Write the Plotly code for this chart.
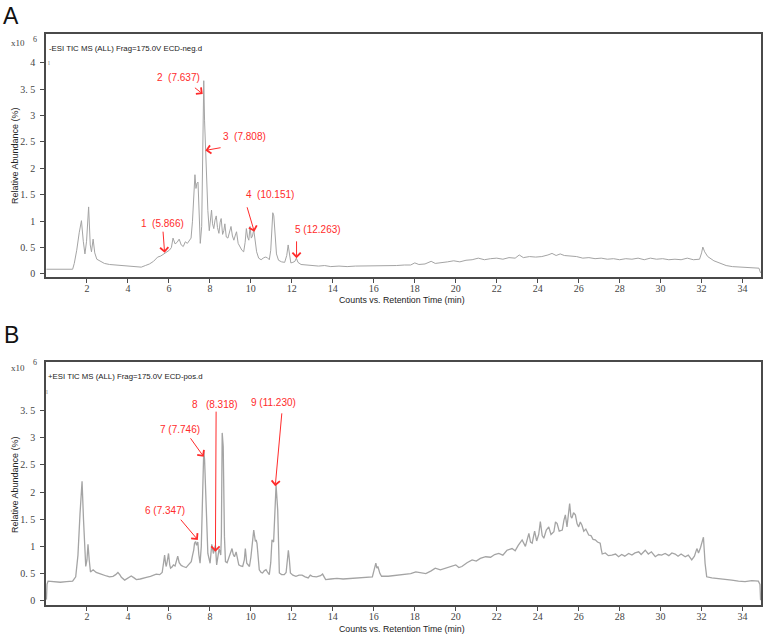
import plotly.graph_objects as go

# ---------------- data ----------------
t_neg = [0.02, 1.30, 1.38, 1.50, 1.62, 1.73, 1.82, 1.90, 1.98, 2.08, 2.16, 2.22, 2.30, 2.38, 2.48,
         2.65, 2.85, 3.1, 3.4, 3.7, 3.95, 4.2, 4.45, 4.65, 4.85, 5.05, 5.25, 5.45, 5.6, 5.75, 5.9,
         6.02, 6.12, 6.2, 6.3, 6.4, 6.5, 6.6, 6.7, 6.8, 6.9, 7.0, 7.08, 7.15, 7.22, 7.27, 7.32,
         7.37, 7.42, 7.47, 7.53, 7.6, 7.66, 7.70, 7.74, 7.78, 7.83, 7.90, 7.97, 8.03, 8.08, 8.13,
         8.19, 8.25, 8.31, 8.37, 8.44, 8.50, 8.55, 8.62, 8.68, 8.73, 8.80, 8.88, 8.96, 9.03, 9.10,
         9.17, 9.23, 9.30, 9.38, 9.47, 9.56, 9.65, 9.72, 9.78, 9.84, 9.90, 9.96, 10.02, 10.08,
         10.14, 10.20, 10.28, 10.38, 10.5, 10.6, 10.7, 10.8, 10.9, 10.97, 11.03, 11.07, 11.12,
         11.17, 11.25, 11.35, 11.5, 11.65, 11.75, 11.82, 11.88, 11.95, 12.05, 12.15, 12.22, 12.3,
         12.45, 12.7, 13.0, 13.3, 13.6, 13.9, 14.3, 14.7, 15.1, 15.5, 15.9, 16.3, 16.7, 17.1,
         17.5, 17.8, 18.0, 18.2, 18.5, 18.8, 19.0, 19.3, 19.6, 19.9, 20.2, 20.5, 20.8, 21.1,
         21.4, 21.7, 22.0, 22.3, 22.6, 22.9, 23.1, 23.3, 23.6, 23.9, 24.2, 24.5, 24.7, 24.9,
         25.1, 25.3, 25.6, 25.9, 26.2, 26.5, 26.8, 27.1, 27.4, 27.7, 28.0, 28.3, 28.6, 28.9,
         29.2, 29.5, 29.8, 30.1, 30.4, 30.7, 31.0, 31.3, 31.6, 31.9, 32.0, 32.06, 32.15, 32.3,
         32.6, 32.9, 33.2, 33.5, 33.9, 34.3, 34.8, 34.88]
v_neg = [0.09, 0.09, 0.20, 0.45, 0.78, 1.01, 0.62, 0.38, 0.62, 1.27, 0.55, 0.42, 0.66, 0.40, 0.28,
         0.24, 0.20, 0.18, 0.17, 0.16, 0.15, 0.15, 0.14, 0.13, 0.16, 0.19, 0.24, 0.32, 0.34, 0.38, 0.42,
         0.45, 0.50, 0.68, 0.57, 0.60, 0.66, 0.55, 0.52, 0.61, 0.58, 0.64, 0.68, 1.00, 1.60, 1.88, 1.62,
         1.72, 1.74, 1.30, 0.58, 0.90, 2.60, 3.66, 2.90, 2.35, 1.90, 1.20, 0.82, 1.05, 1.21, 0.95,
         0.86, 1.02, 1.10, 0.88, 0.77, 0.98, 1.05, 0.75, 0.82, 0.95, 0.70, 0.68, 0.78, 0.90, 0.72,
         0.64, 0.72, 0.80, 0.58, 0.52, 0.45, 0.42, 0.60, 0.86, 0.70, 0.64, 0.90, 0.68, 0.72,
         0.84, 0.60, 0.42, 0.30, 0.27, 0.30, 0.32, 0.31, 0.27, 0.45, 0.95, 1.16, 1.10,
         0.85, 0.38, 0.26, 0.23, 0.22, 0.35, 0.55, 0.35, 0.21, 0.22, 0.24, 0.30, 0.22,
         0.18, 0.17, 0.16, 0.15, 0.16, 0.14, 0.15, 0.14, 0.15, 0.15, 0.16, 0.15, 0.16, 0.16,
         0.17, 0.17, 0.21, 0.18, 0.19, 0.24, 0.20, 0.21, 0.23, 0.25, 0.23, 0.26, 0.27, 0.30,
         0.27, 0.29, 0.30, 0.28, 0.31, 0.30, 0.36, 0.31, 0.33, 0.32, 0.33, 0.36, 0.39, 0.35,
         0.38, 0.35, 0.34, 0.33, 0.30, 0.31, 0.29, 0.30, 0.28, 0.29, 0.27, 0.29, 0.28, 0.30,
         0.27, 0.30, 0.28, 0.29, 0.27, 0.28, 0.27, 0.30, 0.27, 0.28, 0.40, 0.51, 0.42, 0.33,
         0.25, 0.20, 0.16, 0.14, 0.13, 0.12, 0.11, 0.02]

t_pos = [0.02, 0.05, 0.10, 0.4, 0.7, 1.0, 1.3, 1.45, 1.56, 1.66, 1.76, 1.83, 1.89, 1.94, 2.0, 2.05,
         2.11, 2.17, 2.3, 2.45, 2.62, 2.8, 2.95, 3.1, 3.27, 3.4, 3.51, 3.6, 3.68, 3.84, 4.0, 4.16,
         4.3, 4.41, 4.6, 4.75, 4.9, 5.1, 5.25, 5.38, 5.55, 5.67, 5.74, 5.79, 5.84, 5.87, 5.93, 5.98,
         6.04, 6.08, 6.15, 6.22, 6.3, 6.37, 6.43, 6.5, 6.6, 6.7, 6.84, 6.95, 7.09, 7.16, 7.21, 7.25,
         7.30, 7.35, 7.41, 7.46, 7.52, 7.58, 7.63, 7.70, 7.74, 7.82, 7.90, 8.01, 8.05, 8.09, 8.17,
         8.22, 8.27, 8.33, 8.39, 8.45, 8.53, 8.56, 8.60, 8.63, 8.65, 8.71, 8.76, 8.84, 8.92, 9.0,
         9.08, 9.14, 9.2, 9.28, 9.35, 9.41, 9.5, 9.6, 9.68, 9.73, 9.80, 9.86, 9.93, 10.0, 10.08,
         10.14, 10.22, 10.26, 10.30, 10.35, 10.41, 10.5, 10.57, 10.65, 10.74, 10.82, 10.9, 10.97,
         11.03, 11.11, 11.17, 11.23, 11.31, 11.36, 11.39, 11.5, 11.63, 11.72, 11.78, 11.83, 11.88,
         11.93, 12.05, 12.2, 12.35, 12.5, 12.65, 12.8, 12.9, 13.0, 13.2, 13.4, 13.5, 13.6, 13.65,
         13.9, 14.2, 14.5, 14.8, 15.1, 15.4, 15.7, 15.93, 16.05, 16.1, 16.15, 16.2, 16.3, 16.38,
         16.7, 17.0, 17.23, 17.5, 17.8, 18.05, 18.3, 18.54, 18.8, 19.0, 19.25, 19.5, 19.75, 20.0,
         20.15, 20.3, 20.55, 20.8, 21.0, 21.2, 21.46, 21.7, 21.9, 22.1, 22.3, 22.5, 22.75, 22.9,
         23.05, 23.24, 23.4, 23.57, 23.65, 23.73, 23.85, 23.95, 24.05, 24.13, 24.22, 24.3, 24.42,
         24.54, 24.65, 24.79, 24.87, 24.95, 25.05, 25.2, 25.28, 25.35, 25.43, 25.5, 25.56, 25.62,
         25.67, 25.75, 25.84, 25.92, 26.0, 26.08, 26.16, 26.25, 26.35, 26.49, 26.6, 26.7, 26.81,
         26.92, 27.05, 27.1, 27.15, 27.3, 27.45, 27.62, 27.8, 27.95, 28.1, 28.25, 28.44, 28.6,
         28.75, 28.93, 29.05, 29.25, 29.4, 29.55, 29.74, 29.9, 30.05, 30.22, 30.4, 30.55, 30.71,
         30.85, 31.0, 31.2, 31.35, 31.52, 31.65, 31.77, 31.85, 31.95, 32.09, 32.17, 32.25, 32.5,
         32.82, 33.1, 33.47, 33.8, 34.12, 34.45, 34.77, 34.85, 34.88]
v_pos = [0.02, 0.30, 0.36, 0.35, 0.34, 0.35, 0.36, 0.44, 0.84, 1.60, 2.20, 1.50, 1.00, 0.63, 0.75, 1.04,
         0.75, 0.53, 0.57, 0.52, 0.50, 0.47, 0.455, 0.44, 0.45, 0.48, 0.52, 0.48, 0.43, 0.38, 0.41, 0.455,
         0.42, 0.39, 0.40, 0.42, 0.43, 0.45, 0.47, 0.49, 0.48, 0.52, 0.70, 0.84, 0.68, 0.63, 0.75, 0.87,
         0.66, 0.60, 0.62, 0.66, 0.64, 0.72, 0.82, 0.70, 0.65, 0.63, 0.61, 0.66, 0.72, 0.85, 0.93, 1.06,
         1.09, 1.02, 1.08, 0.85, 0.69, 1.00, 2.00, 2.76, 2.60, 1.49, 0.87, 0.69, 0.90, 1.04, 0.87,
         0.95, 1.02, 0.66, 0.85, 0.96, 0.84, 1.20, 3.09, 2.90, 2.84, 1.18, 0.72, 0.70, 0.78, 0.85,
         0.96, 0.85, 0.81, 0.90, 0.72, 0.66, 0.64, 0.63, 0.75, 0.96, 0.69, 0.65, 0.63, 0.80, 1.10,
         1.30, 1.09, 1.12, 1.05, 0.75, 0.57, 0.52, 0.51, 0.55, 0.57, 0.52, 0.48, 0.70,
         1.12, 1.08, 1.60, 2.13, 1.67, 0.90, 0.51, 0.48, 0.48, 0.52, 0.80, 0.93, 0.75,
         0.51, 0.47, 0.45, 0.47, 0.47, 0.44, 0.42, 0.47, 0.45, 0.44, 0.46, 0.49, 0.43, 0.39,
         0.40, 0.41, 0.40, 0.41, 0.42, 0.43, 0.43, 0.44, 0.62, 0.69, 0.60, 0.63, 0.50, 0.45,
         0.45, 0.46, 0.47, 0.49, 0.50, 0.53, 0.51, 0.50, 0.55, 0.60, 0.57, 0.60, 0.62, 0.66,
         0.61, 0.63, 0.70, 0.75, 0.73, 0.78, 0.81, 0.80, 0.85, 0.87, 0.84, 0.93, 0.96, 0.92,
         1.02, 1.12, 1.00, 1.24, 1.08, 1.06, 1.28, 1.10, 1.22, 1.455, 1.20, 1.15, 1.30,
         1.36, 1.22, 1.27, 1.45, 1.42, 1.28, 1.30, 1.48, 1.58, 1.36, 1.55, 1.79, 1.55,
         1.52, 1.62, 1.58, 1.42, 1.36, 1.45, 1.39, 1.28, 1.32, 1.21, 1.20, 1.13, 1.12,
         1.08, 1.06, 0.95, 0.86, 0.88, 0.83, 0.84, 0.86, 0.81, 0.85, 0.82, 0.87, 0.84,
         0.88, 0.90, 0.85, 0.93, 0.86, 0.90, 0.81, 0.85, 0.84, 0.87, 0.83, 0.88, 0.86,
         0.82, 0.86, 0.81, 0.84, 0.75, 0.82, 0.96, 0.88, 0.98, 1.17, 0.69, 0.44, 0.42,
         0.41, 0.40, 0.38, 0.36, 0.35, 0.37, 0.36, 0.30, 0.01]

# peak labels
labels_neg = ["1  (5.866)", "2  (7.637)", "3  (7.808)", "4  (10.151)", "5 (12.263)"]
tips_neg_t = [5.79, 7.65, 7.78, 10.17, 12.23]
tips_neg_v = [0.40, 3.41, 2.34, 0.80, 0.30]
text_neg_t = [5.69, 6.47, 9.68, 10.95, 13.29]
text_neg_v = [0.95, 3.73, 2.60, 1.51, 0.85]

labels_pos = ["6 (7.347)", "7 (7.746)", "8   (8.318)", "9 (11.230)"]
tips_pos_t = [7.41, 7.70, 8.27, 11.19]
tips_pos_v = [1.12, 2.65, 0.90, 2.11]
text_pos_t = [5.79, 6.56, 8.27, 11.10]
text_pos_v = [1.67, 3.16, 3.62, 3.65]

xtick_vals = list(range(2, 35, 2))
ytick_vals_a = [0, 0.5, 1, 1.5, 2, 2.5, 3, 3.5, 4]
ytick_text_a = ["0", "0. 5", "1", "1. 5", "2", "2. 5", "3", "3. 5", "4"]
ytick_vals_b = [0, 0.5, 1, 1.5, 2, 2.5, 3, 3.5]
ytick_text_b = ["0", "0. 5", "1", "1. 5", "2", "2. 5", "3", "3. 5"]

title_neg = "-ESI TIC MS (ALL) Frag=175.0V ECD-neg.d"
title_pos = "+ESI TIC MS (ALL) Frag=175.0V ECD-pos.d"
x_title = "Counts vs. Retention Time (min)"
y_title = "Relative Abundance (%)"

# ---------------- layout helpers ----------------
W, H = 767, 636
ML, MR, MT, MB = 46, 4, 34, 31
PW, PH = W - ML - MR, H - MT - MB


def px(x):
    return (x - ML) / PW


def py(y):
    return (H - MB - y) / PH


RED = "#ff2b2b"
GRAY_LINE = "#a4a4a4"
AX = "#4a4a4a"
SERIF = "Liberation Serif"
SANS = "Liberation Sans"

fig = go.Figure()
fig.add_trace(go.Scatter(x=t_neg, y=v_neg, mode="lines", xaxis="x", yaxis="y",
                         line=dict(color=GRAY_LINE, width=1), showlegend=False, hoverinfo="skip"))
fig.add_trace(go.Scatter(x=t_pos, y=v_pos, mode="lines", xaxis="x2", yaxis="y2",
                         line=dict(color=GRAY_LINE, width=1.3), showlegend=False, hoverinfo="skip"))

xcommon = dict(range=[0, 34.9], tickvals=xtick_vals, showline=True, linecolor=AX, linewidth=1.5,
               mirror=True, ticks="outside", ticklen=4, tickcolor=AX, showgrid=False, zeroline=False,
               ticklabelstandoff=-3, tickfont=dict(family=SERIF, size=10, color="#444"))
ycommon = dict(showline=True, linecolor=AX, linewidth=1.5, mirror=True, ticks="outside", ticklen=4,
               tickcolor=AX, showgrid=False, zeroline=False, ticklabelstandoff=3,
               tickfont=dict(family=SERIF, size=10, color="#444"))

fig.update_layout(
    width=W, height=H, margin=dict(l=ML, r=MR, t=MT, b=MB),
    paper_bgcolor="white", plot_bgcolor="white",
    xaxis=dict(domain=[0, 1], anchor="y", **xcommon),
    yaxis=dict(domain=[py(277), 1], anchor="x", range=[-0.057, 4.545],
               tickvals=ytick_vals_a, ticktext=ytick_text_a, **ycommon),
    xaxis2=dict(domain=[0, 1], anchor="y2", **xcommon),
    yaxis2=dict(domain=[0, py(362)], anchor="x2", range=[-0.079, 4.396],
                tickvals=ytick_vals_b, ticktext=ytick_text_b, **ycommon),
)

ann = []


def paper_text(text, x, y, size, family=SANS, color="#222", angle=0, xanchor="center"):
    ann.append(dict(text=text, x=px(x), y=py(y), xref="paper", yref="paper", showarrow=False,
                    xanchor=xanchor, yanchor="middle", textangle=angle,
                    font=dict(family=family, size=size, color=color)))


# panel letters
paper_text("A", 11, 16, 23, color="#111")
paper_text("B", 11, 335, 23, color="#111")
# x10^6 markers
for yb in (43.5, 367.5):
    paper_text("x10", 18, yb, 9, family=SERIF, color="#444")
    paper_text("6", 34.5, yb - 4.5, 8, family=SERIF, color="#444")
# header texts inside plots
paper_text(title_neg, 47, 48.5, 7.8, color="#222", xanchor="left")
paper_text(title_pos, 46, 376.5, 7.8, color="#222", xanchor="left")
# small marker glyphs near the top of the y axes
paper_text("l", 49, 63, 7, family=SERIF, color="#888")
paper_text("l", 47.5, 392, 7, family=SERIF, color="#888")
# axis titles
paper_text(x_title, 403, 300, 8.8, color="#222")
paper_text(x_title, 403, 629, 8.8, color="#222")
paper_text(y_title, 15, 156, 9, color="#222", angle=-90)
paper_text(y_title, 15, 485, 9, color="#222", angle=-90)

# peak annotations
tails_neg = [(-1.7, -22.7), (-9.3, -7.3), (16.7, -3.0), (-7.7, -26.0), (0.0, -18.3)]
tails_pos = [(-18.3, -21.7), (-14.3, -20.0), (0.7, -141.7), (6.7, -74.3)]

for lab, tt, tv, xt, yt, (dx, dy) in zip(labels_neg, tips_neg_t, tips_neg_v, text_neg_t, text_neg_v, tails_neg):
    ann.append(dict(text=lab, x=xt, y=yt, xref="x", yref="y", showarrow=False,
                    font=dict(family=SANS, size=10, color=RED)))
    ann.append(dict(text="", x=tt, y=tv, xref="x", yref="y", showarrow=True, ax=dx, ay=dy,
                    arrowhead=4, arrowsize=1.6, arrowwidth=1, arrowcolor=RED, standoff=0))

for lab, tt, tv, xt, yt, (dx, dy) in zip(labels_pos, tips_pos_t, tips_pos_v, text_pos_t, text_pos_v, tails_pos):
    ann.append(dict(text=lab, x=xt, y=yt, xref="x2", yref="y2", showarrow=False,
                    font=dict(family=SANS, size=10, color=RED)))
    ann.append(dict(text="", x=tt, y=tv, xref="x2", yref="y2", showarrow=True, ax=dx, ay=dy,
                    arrowhead=4, arrowsize=1.6, arrowwidth=1, arrowcolor=RED, standoff=0))

fig.update_layout(annotations=ann)
fig.write_html("out.html")
